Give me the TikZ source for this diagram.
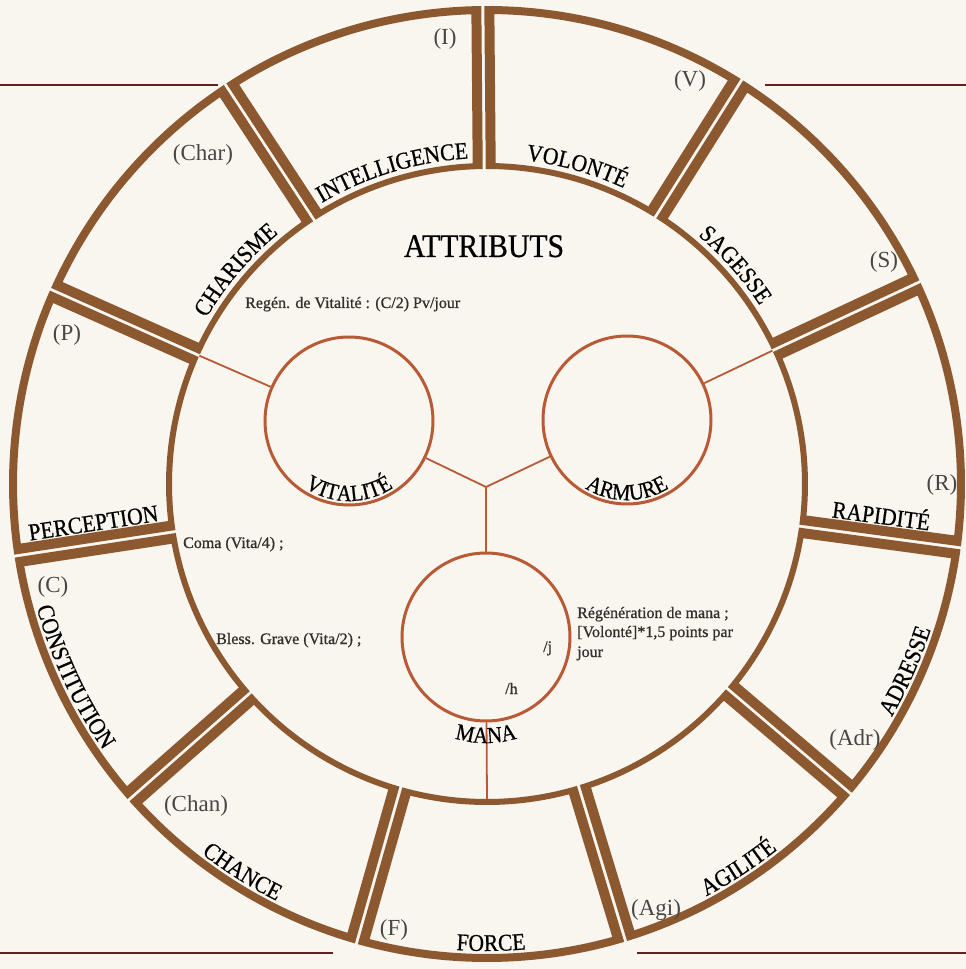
\documentclass[tikz,border=0pt]{standalone}
\usepackage{fontspec}
\newfontfamily\uncialfam{Liberation Serif}[FakeStretch=0.9,FakeBold=0.6]
\newfontfamily\notefam{Liberation Serif}[FakeBold=0.8]
\newfontfamily\abbrfam{Liberation Serif}
\usetikzlibrary{decorations.text,calc}
\definecolor{parch}{RGB}{249,246,239}
\definecolor{ringbrown}{RGB}{140,88,48}
\definecolor{circbrown}{RGB}{184,90,54}
\definecolor{rulered}{RGB}{105,30,32}
\definecolor{txtgray}{RGB}{50,47,44}
\definecolor{abbrgray}{RGB}{72,70,68}
\newcommand\uncfont{\uncialfam\fontsize{24}{24}\selectfont}
\newcommand\circfont{\uncialfam\fontsize{23}{23}\selectfont}
\tikzset{
  circ/.style={circle, draw=circbrown, line width=3pt, minimum size=168pt, inner sep=0pt},
  conn/.style={draw=circbrown, line width=1.8pt},
  abbr/.style={text=abbrgray, font=\abbrfam\fontsize{23}{23}\selectfont, inner sep=0pt},
  note/.style={text=txtgray, font=\notefam\fontsize{16}{19.5}\selectfont, inner sep=0pt},
  hrule/.style={draw=rulered, line width=2pt},
  sidelabel/.style={font=\uncfont, inner sep=0pt, anchor=base},
}
\begin{document}
\begin{tikzpicture}[x=1pt,y=1pt]
\fill[parch] (-487,-485) rectangle (479,484);
\useasboundingbox (-487,-485) rectangle (479,484);

% corner rules
\draw[hrule] (-487,399) -- (-269,399);
\draw[hrule] (278,399) -- (479,399);
\draw[hrule] (-487,-469) -- (-154,-469);
\draw[hrule] (150,-469) -- (479,-469);

% ring sectors
\foreach \k in {0,...,10}{
  \pgfmathsetmacro{\angA}{90.5-\k*360/11}
  \pgfmathsetmacro{\angB}{\angA-360/11}
  \pgfmathsetmacro{\aO}{\angA-asin(1.5/478)}
  \pgfmathsetmacro{\bO}{\angB+asin(1.5/478)}
  \pgfmathsetmacro{\aI}{\angA-asin(1.5/315)}
  \pgfmathsetmacro{\bI}{\angB+asin(1.5/315)}
  \pgfmathsetmacro{\aOh}{\angA-asin(11.5/470)}
  \pgfmathsetmacro{\bOh}{\angB+asin(11.5/470)}
  \pgfmathsetmacro{\aIh}{\angA-asin(11.5/321)}
  \pgfmathsetmacro{\bIh}{\angB+asin(11.5/321)}
  \fill[ringbrown, even odd rule]
    (\aO:478) arc[start angle=\aO, end angle=\bO, radius=478pt] -- (\bI:315) arc[start angle=\bI, end angle=\aI, radius=315pt] -- cycle
    (\aOh:470) arc[start angle=\aOh, end angle=\bOh, radius=470pt] -- (\bIh:321) arc[start angle=\bIh, end angle=\aIh, radius=321pt] -- cycle;
}

% divider inner points
\coordinate (D2) at (25.045:315);
\coordinate (D9) at (155.955:315);
\coordinate (Dbot) at (-90:315);
\coordinate (J) at (-1,-3);

% inner circles
\node[circ] (V) at (-138,63) {};
\node[circ] (A) at (140,64) {};
\node[circ] (M) at (-1,-153) {};

\draw[conn] (J) -- (V);
\draw[conn] (J) -- (A);
\draw[conn] (J) -- (M);
\draw[conn] (V) -- (D9);
\draw[conn] (A) -- (D2);
\draw[conn] (M) -- (Dbot);

% top labels along inner arc
\path[decorate,decoration={text along path,text align=center,text={|\uncfont|VOLONTÉ}}]
  (96.14:326) arc[start angle=96.14,end angle=52.14,radius=326pt];
\path[decorate,decoration={text along path,text align=center,text={|\uncfont|SAGESSE}}]
  (63.41:326) arc[start angle=63.41,end angle=19.41,radius=326pt];
\path[decorate,decoration={text along path,text align=center,text={|\uncfont|CHARISME}}]
  (161.59:326) arc[start angle=161.59,end angle=117.59,radius=326pt];
\path[decorate,decoration={text along path,text align=center,text={|\uncfont|INTELLIGENCE}}]
  (131.86:326) arc[start angle=131.86,end angle=81.86,radius=326pt];

% bottom labels along outer arc
\path[decorate,decoration={text along path,text align=center,text={|\uncfont|ADRESSE}}]
  (-49.05:467) arc[start angle=-49.05,end angle=0.95,radius=467pt];
\path[decorate,decoration={text along path,text align=center,text={|\uncfont|AGILITÉ}}]
  (-81.77:467) arc[start angle=-81.77,end angle=-31.77,radius=467pt];
\path[decorate,decoration={text along path,text align=center,text={|\uncfont|FORCE}}]
  (-114.5:467) arc[start angle=-114.5,end angle=-64.5,radius=467pt];
\path[decorate,decoration={text along path,text align=center,text={|\uncfont|CHANCE}}]
  (-147.23:467) arc[start angle=-147.23,end angle=-97.23,radius=467pt];
\path[decorate,decoration={text along path,text align=center,text={|\uncfont|CONSTITUTION}}]
  (-184.96:467) arc[start angle=-184.96,end angle=-124.96,radius=467pt];

% side labels along dividers
\node[sidelabel, rotate=-7.682] (rapid) at ($(-7.682:395)+(82.318:13)$) {RAPIDITÉ};
\node[sidelabel, rotate=8.682] (percep) at ($(-171.318:395)+(98.682:13)$) {PERCEPTION};

% circle labels
\path[decorate,decoration={text along path,text align=center,text={|\circfont|VITALITÉ}}]
  ($(V)+(200:80)$) arc[start angle=200,end angle=340,radius=80pt];
\path[decorate,decoration={text along path,text align=center,text={|\circfont|ARMURE}}]
  ($(A)+(200:80)$) arc[start angle=200,end angle=340,radius=80pt];
\path[decorate,decoration={text along path,text align=center,text={|\circfont|MANA}}]
  ($(M)+(225:106)$) arc[start angle=225,end angle=315,radius=106pt];

% title
\node[anchor=base, font=\uncialfam\fontsize{33}{33}\selectfont, inner sep=0pt] (title) at (-3,227) {ATTRIBUTS};

% abbreviations
\node[abbr] (abI) at (-42,445) {(I)};
\node[abbr] (abV) at (203,403) {(V)};
\node[abbr] (abS) at (397,222) {(S)};
\node[abbr] (abR) at (455,-1) {(R)};
\node[abbr] (abAdr) at (368,-256) {(Adr)};
\node[abbr] (abAgi) at (169,-426) {(Agi)};
\node[abbr] (abF) at (-93,-446) {(F)};
\node[abbr] (abChan) at (-291,-322) {(Chan)};
\node[abbr] (abC) at (-434,-103) {(C)};
\node[abbr] (abP) at (-420,149) {(P)};
\node[abbr] (abChar) at (-284,329) {(Char)};

% notes
\node[note, anchor=base west] (regen) at (-242,176) {Regén. de Vitalité : (C/2) Pv/jour};
\node[note, anchor=base west] (coma) at (-304,-64) {Coma (Vita/4) ;};
\node[note, anchor=base west] (bless) at (-271,-160) {Bless. Grave (Vita/2) ;};
\node[note, anchor=base west] (rm1) at (90,-134) {Régénération de mana ;};
\node[note, anchor=base west] (rm2) at (90,-153) {[Volonté]*1,5 points par};
\node[note, anchor=base west] (rm3) at (90,-173) {jour};
\node[note, anchor=base west] (perj) at (56,-168) {/j};
\node[note, anchor=base west] (perh) at (18,-210) {/h};
\end{tikzpicture}
\end{document}
